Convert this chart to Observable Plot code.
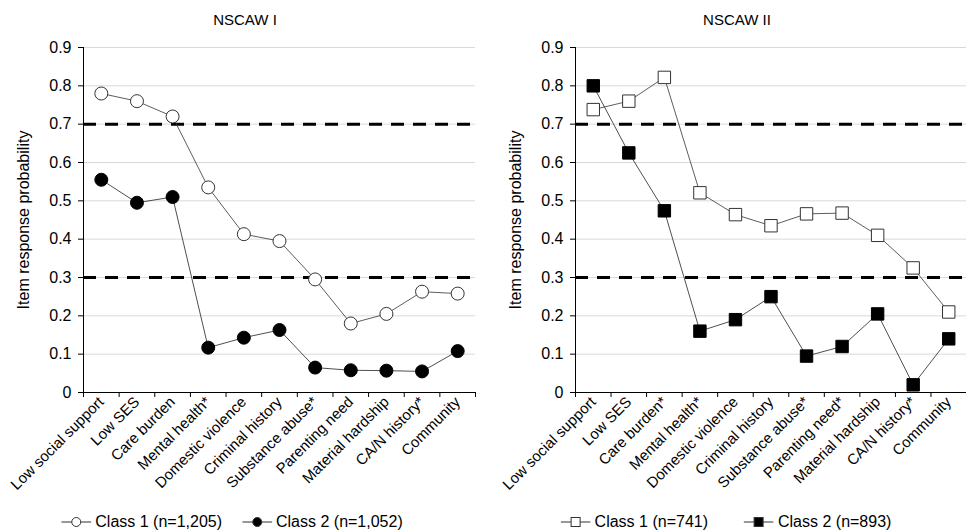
<!DOCTYPE html>
<html><head><meta charset="utf-8">
<script src="https://cdn.jsdelivr.net/npm/d3@7"></script>
<script src="https://cdn.jsdelivr.net/npm/@observablehq/plot@0.6"></script>
<style>
body{margin:0;background:#fff;font-family:Arial,"Liberation Sans",sans-serif;}
#wrap{position:relative;width:966px;height:532px;overflow:hidden;background:#fff;}
.panel{position:absolute;top:0;}
.title{position:absolute;top:11px;font-size:15px;color:#000;transform:translateX(-50%);white-space:nowrap;}
.legend{position:absolute;top:513px;display:flex;align-items:center;gap:20px;font-size:16px;color:#000;transform:translateX(-50%);white-space:nowrap;}
.item{display:flex;align-items:center;gap:4px;}
.item svg{display:block;}
</style></head>
<body><div id="wrap"></div>
<script>
const categoriesI = ["Low social support","Low SES","Care burden","Mental health*","Domestic violence","Criminal history","Substance abuse*","Parenting need","Material hardship","CA/N history*","Community"];
const categoriesII = ["Low social support","Low SES","Care burden*","Mental health*","Domestic violence","Criminal history","Substance abuse*","Parenting need*","Material hardship","CA/N history*","Community"];
const nscaw1Class1 = [0.78,0.76,0.72,0.535,0.413,0.395,0.295,0.18,0.205,0.263,0.258];
const nscaw1Class2 = [0.555,0.495,0.51,0.117,0.143,0.163,0.065,0.058,0.057,0.055,0.108];
const nscaw2Class1 = [0.738,0.76,0.822,0.521,0.464,0.435,0.466,0.468,0.41,0.325,0.21];
const nscaw2Class2 = [0.80,0.625,0.474,0.16,0.19,0.25,0.095,0.12,0.205,0.02,0.14];
const yTicks = [0,0.1,0.2,0.3,0.4,0.5,0.6,0.7,0.8,0.9];
const thresholds = [0.3,0.7];
const titles = ["NSCAW I","NSCAW II"];
const legendI = ["Class 1 (n=1,205)","Class 2 (n=1,052)"];
const legendII = ["Class 1 (n=741)","Class 2 (n=893)"];
const yLabel = "Item response probability";

const FONT = 'Arial, "Liberation Sans", sans-serif';

function panel(cats, c1, c2, symbol, r, marginLeft, marginRight) {
  const n = cats.length;
  const rows = vals => vals.map((v, i) => ({i, cat: cats[i], v}));
  const d1 = rows(c1), d2 = rows(c2);
  const centers = cats.map((_, i) => i + 0.5);
  const bounds = d3.range(n + 1);
  const X = d => d.i + 0.5;
  return Plot.plot({
    width: 483, height: 500,
    marginTop: 47, marginBottom: 108, marginLeft, marginRight,
    style: {fontFamily: FONT, fontSize: "14px", color: "#000", background: "transparent", overflow: "visible"},
    x: {type: "linear", domain: [0, n], axis: null},
    y: {domain: [0, 0.9], axis: null},
    marks: [
      Plot.ruleY(yTicks.filter(d => d > 0), {stroke: "#d9d9d9", strokeWidth: 1}),
      Plot.ruleY(thresholds, {stroke: "#000", strokeWidth: 3, strokeDasharray: "13,9"}),
      Plot.ruleX([0], {y1: 0, y2: 0.9, stroke: "#000", strokeWidth: 1}),
      Plot.ruleY([0], {stroke: "#000", strokeWidth: 1}),
      Plot.axisY({ticks: yTicks, tickFormat: d => d === 0 ? "0" : d.toFixed(1), tickSize: 5, tickPadding: 7, fontSize: 16,
        label: yLabel, labelAnchor: "center", labelOffset: 66, labelArrow: "none", stroke: "#000"}),
      Plot.axisX({ticks: bounds, tickFormat: () => "", tickSize: 5, label: null, stroke: "#000"}),
      Plot.axisX({ticks: centers, tickFormat: d => cats[Math.round(d - 0.5)], tickSize: 0, tickRotate: -45, tickPadding: 7, fontSize: 15, label: null}),
      Plot.line(d1, {x: X, y: "v", stroke: "#333", strokeWidth: 0.8}),
      Plot.line(d2, {x: X, y: "v", stroke: "#222", strokeWidth: 0.8}),
      Plot.dot(d1, {x: X, y: "v", r, symbol, fill: "white", stroke: "#333", strokeWidth: 1}),
      Plot.dot(d2, {x: X, y: "v", r, symbol, fill: "#000", stroke: "#000", strokeWidth: 1})
    ]
  });
}

function glyph(shape, filled) {
  const fill = filled ? "#000" : "#fff";
  const m = shape === "circle"
    ? `<circle cx="15" cy="8" r="4.5" fill="${fill}" stroke="#333" stroke-width="1"/>`
    : `<rect x="10.5" y="3.5" width="9" height="9" fill="${fill}" stroke="#333" stroke-width="1"/>`;
  return `<svg width="30" height="16"><line x1="0" x2="30" y1="8" y2="8" stroke="#333" stroke-width="1"/>${m}</svg>`;
}

const wrap = document.getElementById("wrap");
function place(node, left) { node.classList.add("panel"); node.style.left = left + "px"; wrap.appendChild(node); }
place(panel(categoriesI, nscaw1Class1, nscaw1Class2, "circle", 6.5, 83, 8), 0);
place(panel(categoriesII, nscaw2Class1, nscaw2Class2, "square", 7, 92, 0), 483);

[[titles[0], 245], [titles[1], 737]].forEach(([t, x]) => {
  const d = document.createElement("div"); d.className = "title"; d.textContent = t; d.style.left = x + "px"; wrap.appendChild(d);
});

[[legendI, "circle", 232, 20], [legendII, "square", 726, 36]].forEach(([labels, shape, x, gap]) => {
  const d = document.createElement("div"); d.className = "legend"; d.style.left = x + "px"; d.style.gap = gap + "px";
  d.innerHTML = labels.map((l, k) => `<div class="item">${glyph(shape, k === 1)}<span>${l}</span></div>`).join("");
  wrap.appendChild(d);
});
</script>
</body></html>
